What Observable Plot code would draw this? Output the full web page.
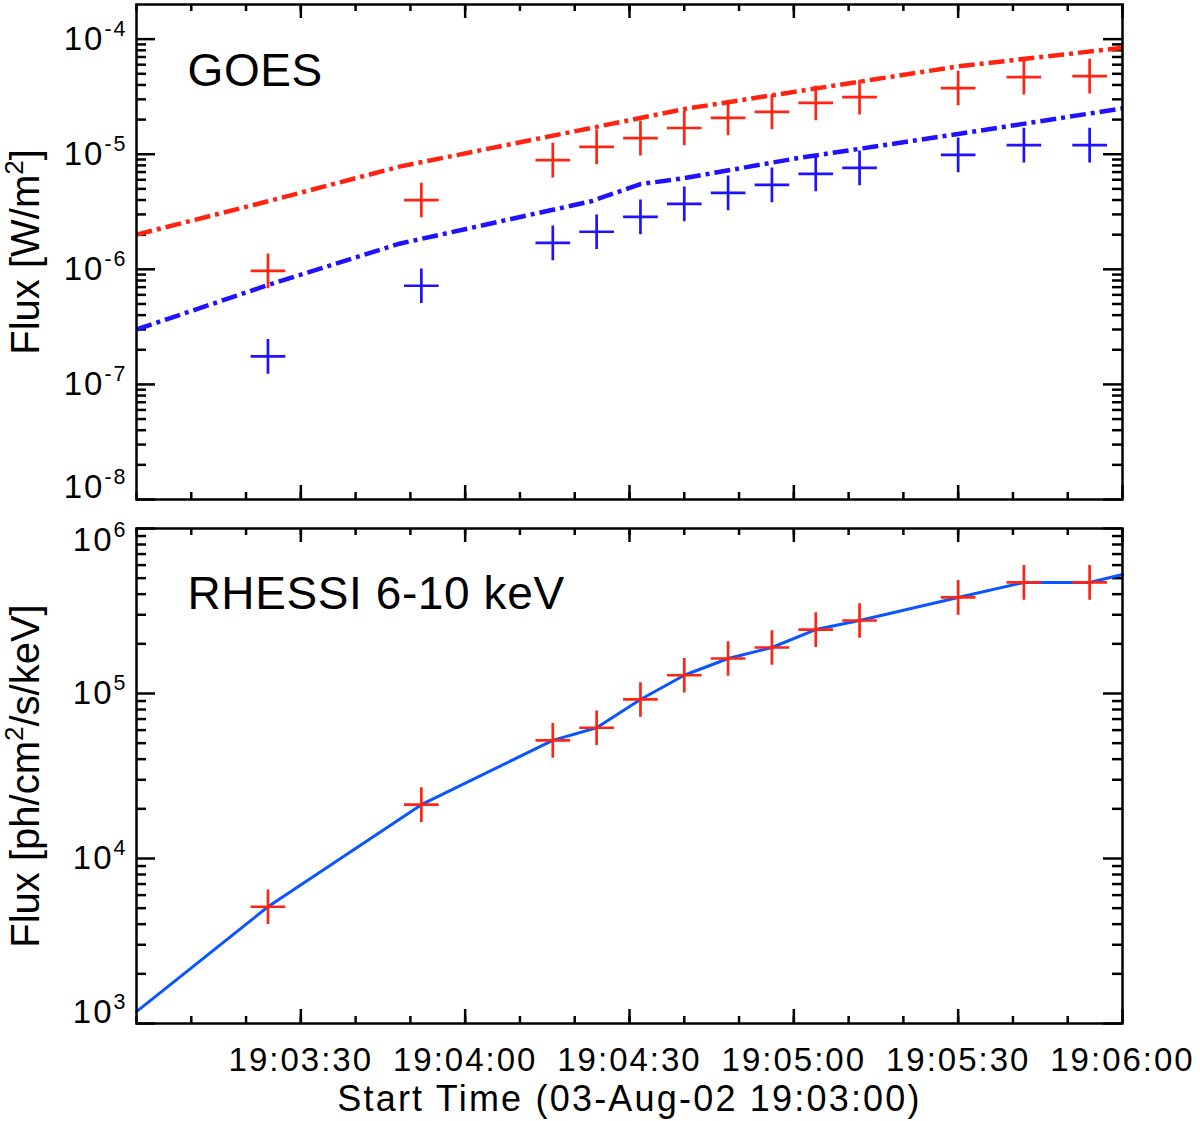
<!DOCTYPE html>
<html>
<head>
<meta charset="utf-8">
<script src="https://cdn.jsdelivr.net/npm/d3@7"></script>
<script src="https://cdn.jsdelivr.net/npm/@observablehq/plot@0.6"></script>
<style>
  body { margin: 0; background: #fff; }
  #chart { width: 1200px; }
  #chart svg { display: block; }
</style>
</head>
<body>
<div id="chart"></div>
<script>
// times are seconds after 19:03:00
const obsTimes = [24, 52, 76, 84, 92, 100, 108, 116, 124, 132, 150, 162, 174];
const goesLongObs = [9.7e-7, 4.0e-6, 8.9e-6, 1.16e-5, 1.38e-5, 1.69e-5, 2.07e-5, 2.33e-5, 2.79e-5, 3.14e-5, 3.76e-5, 4.68e-5, 4.78e-5];
const goesShortObs = [1.75e-7, 7.2e-7, 1.7e-6, 2.12e-6, 2.86e-6, 3.71e-6, 4.62e-6, 5.42e-6, 6.75e-6, 7.6e-6, 9.86e-6, 1.2e-5, 1.2e-5];
const rhessiObs = [5.1e3, 2.12e4, 5.2e4, 6.2e4, 9.2e4, 1.29e5, 1.63e5, 1.9e5, 2.44e5, 2.77e5, 3.82e5, 4.71e5, 4.71e5];

const goesLongCurveT = [0, 24, 48, 84, 100, 121, 150, 180];
const goesLongCurve = [2.0e-6, 3.9e-6, 7.8e-6, 1.73e-5, 2.47e-5, 3.54e-5, 5.8e-5, 8.4e-5];
const goesShortCurveT = [0, 24, 48, 83, 92, 100, 121, 150, 180];
const goesShortCurve = [3.0e-7, 7.3e-7, 1.67e-6, 3.9e-6, 5.5e-6, 6.2e-6, 9.3e-6, 1.5e-5, 2.5e-5];
const rhessiLineT = [0, 24, 52, 76, 84, 92, 100, 108, 116, 124, 132, 150, 162, 174, 180];
const rhessiLine = [1.18e3, 5.1e3, 2.12e4, 5.2e4, 6.2e4, 9.2e4, 1.29e5, 1.63e5, 1.9e5, 2.44e5, 2.77e5, 3.82e5, 4.71e5, 4.71e5, 5.26e5];

const xMajor = [30, 60, 90, 120, 150, 180];
const xTickLabels = ["19:03:30", "19:04:00", "19:04:30", "19:05:00", "19:05:30", "19:06:00"];
const goesDecades = [1e-8, 1e-7, 1e-6, 1e-5, 1e-4];
const rhessiDecades = [1e3, 1e4, 1e5, 1e6];

const RED = "#ff2412";
const BLUE = "#1e12ff";
const LINE_BLUE = "#0a55ff";
const W = 1200, ML = 136, MR = 78, PW = W - ML - MR, PH = 495;
const font = '"Liberation Sans", Arial, sans-serif';

const xMinor = d3.range(0, 181, 10);
const minorOf = (decades) => decades.slice(0, -1).flatMap(d => d3.range(2, 10).map(m => m * d));
const pow10 = d => `10^{${Math.round(Math.log10(d))}}`;

const obsRows = obsTimes.map((t, i) => ({t, long: goesLongObs[i], short: goesShortObs[i], rhessi: rhessiObs[i]}));
const longRows = goesLongCurveT.map((t, i) => ({t, v: goesLongCurve[i]}));
const shortRows = goesShortCurveT.map((t, i) => ({t, v: goesShortCurve[i]}));
const rhessiRows = rhessiLineT.map((t, i) => ({t, v: rhessiLine[i]}));

// inward ticks on all four sides
function frameTicks(yMajor) {
  const yMinor = minorOf(yMajor);
  const s = {stroke: "black", strokeWidth: 2.5};
  return [
    Plot.ruleX(xMinor, {...s, insetBottom: PH - 7}),
    Plot.ruleX(xMinor, {...s, insetTop: PH - 7}),
    Plot.ruleX(xMajor, {...s, insetBottom: PH - 14}),
    Plot.ruleX(xMajor, {...s, insetTop: PH - 14}),
    Plot.ruleY(yMinor, {...s, insetRight: PW - 10}),
    Plot.ruleY(yMinor, {...s, insetLeft: PW - 10}),
    Plot.ruleY(yMajor, {...s, insetRight: PW - 19}),
    Plot.ruleY(yMajor, {...s, insetLeft: PW - 19})
  ];
}

const dashDot = {strokeWidth: 4.5, strokeDasharray: "16,5,4,5", strokeLinecap: "butt", strokeLinejoin: "miter"};
const cross = (y, color) => Plot.dot(obsRows, {x: "t", y, symbol: "plus", r: 11.2, stroke: color, strokeWidth: 2.7, strokeLinecap: "butt"});
const yLabels = (ticks, dy) => Plot.axisY(ticks, {tickSize: 0, tickPadding: 9, tickFormat: pow10, label: null, dy});

const topPlot = Plot.plot({
  width: W, height: 505,
  marginLeft: ML, marginRight: MR, marginTop: 4, marginBottom: 6,
  style: {fontFamily: font, fontSize: "33px", color: "black", background: "white"},
  x: {domain: [0, 180], axis: null},
  y: {type: "log", domain: [1e-8, 2e-4], axis: null},
  marks: [
    ...frameTicks(goesDecades),
    Plot.line(longRows, {x: "t", y: "v", stroke: RED, ...dashDot}),
    Plot.line(shortRows, {x: "t", y: "v", stroke: BLUE, ...dashDot}),
    cross("long", RED),
    cross("short", BLUE),
    yLabels(goesDecades.slice(1), 0),
    yLabels([1e-8], -12),
    Plot.text(["GOES"], {text: d => d, frameAnchor: "top-left", textAnchor: "start", lineAnchor: "top", dx: 51, dy: 49, fontSize: 46}),
    Plot.text(["Flux [W/m^{2}]"], {text: d => d, frameAnchor: "left", textAnchor: "middle", lineAnchor: "middle", rotate: -90, dx: -110, fontSize: 40}),
    Plot.frame({stroke: "black", strokeWidth: 2.5})
  ]
});

const bottomPlot = Plot.plot({
  width: W, height: 616,
  marginLeft: ML, marginRight: MR, marginTop: 23, marginBottom: 98,
  style: {fontFamily: font, fontSize: "33px", color: "black", background: "white"},
  x: {domain: [0, 180], axis: null},
  y: {type: "log", domain: [1e3, 1e6], axis: null},
  marks: [
    ...frameTicks(rhessiDecades),
    Plot.line(rhessiRows, {x: "t", y: "v", stroke: LINE_BLUE, strokeWidth: 3}),
    cross("rhessi", RED),
    yLabels([1e4, 1e5], 0),
    yLabels([1e3], -11),
    yLabels([1e6], 12),
    Plot.axisX(xMajor, {tickSize: 0, tickPadding: 24, tickFormat: d => xTickLabels[xMajor.indexOf(d)], label: null}),
    Plot.text(["RHESSI 6-10 keV"], {text: d => d, frameAnchor: "top-left", textAnchor: "start", lineAnchor: "top", dx: 51, dy: 48, fontSize: 46}),
    Plot.text(["Flux [ph/cm^{2}/s/keV]"], {text: d => d, frameAnchor: "left", textAnchor: "middle", lineAnchor: "middle", rotate: -90, dx: -110, fontSize: 40}),
    Plot.text(["Start Time (03-Aug-02 19:03:00)"], {text: d => d, frameAnchor: "bottom", textAnchor: "middle", lineAnchor: "top", dy: 62, fontSize: 36}),
    Plot.frame({stroke: "black", strokeWidth: 2.5})
  ]
});

const chart = document.querySelector("#chart");
chart.append(topPlot, bottomPlot);

// superscripts written as ^{..}, plus the wide letter spacing of the original
function finish(svg) {
  d3.select(svg).selectAll("text").each(function() {
    const s = this.textContent;
    const label = this.parentNode.getAttribute("aria-label") || "";
    if (label.includes("tick label")) this.style.letterSpacing = "2px";
    else if (s.startsWith("Start")) this.style.letterSpacing = "2.2px";
    else if (s.startsWith("GOES") || s.startsWith("RHESSI")) this.style.letterSpacing = "0.6px";
    if (!s.includes("^{")) return;
    const fs = parseFloat(getComputedStyle(this).fontSize);
    const parts = s.split(/\^\{([^}]*)\}/);
    const sel = d3.select(this);
    this.textContent = "";
    let raised = false;
    parts.forEach((p, i) => {
      if (i % 2) {
        sel.append("tspan").attr("dy", -0.42 * fs).attr("font-size", 0.65 * fs).text(p);
        raised = true;
      } else if (p) {
        const t = sel.append("tspan").text(p);
        if (raised) { t.attr("dy", 0.42 * fs); raised = false; }
      }
    });
  });
}
finish(topPlot);
finish(bottomPlot);
</script>
</body>
</html>
